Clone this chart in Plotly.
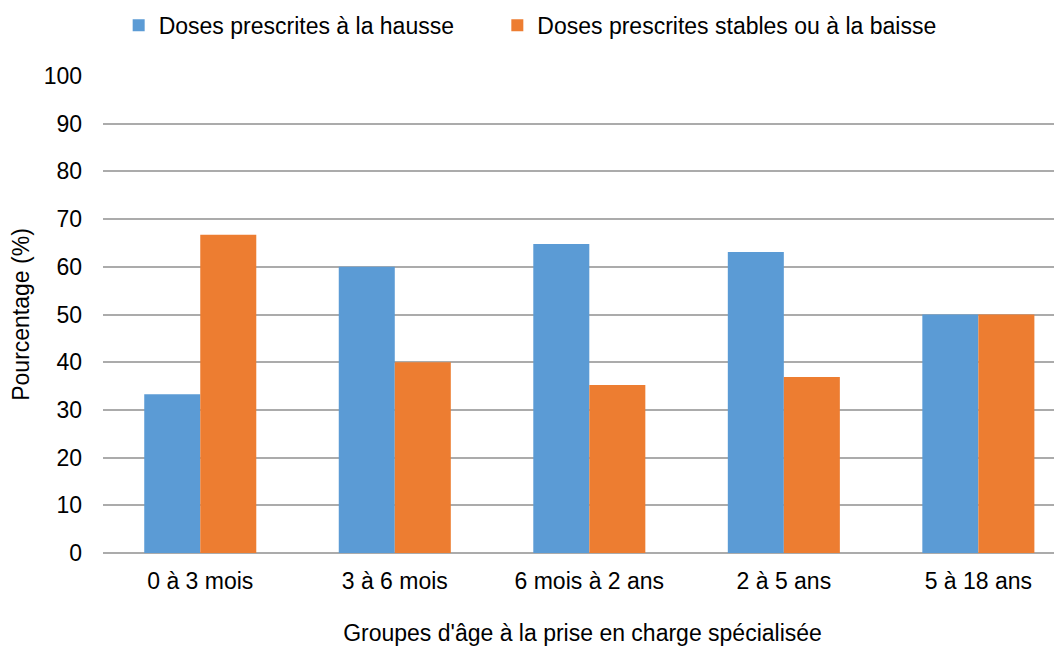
import plotly.graph_objects as go

categories = ["0 à 3 mois", "3 à 6 mois", "6 mois à 2 ans", "2 à 5 ans", "5 à 18 ans"]
hausse = [33.3, 60.0, 64.8, 63.1, 50.0]
stables = [66.7, 40.0, 35.2, 36.9, 50.0]
y_ticks = [0, 10, 20, 30, 40, 50, 60, 70, 80, 90, 100]
series_names = ["Doses prescrites à la hausse", "Doses prescrites stables ou à la baisse"]

FONT = "Liberation Sans, Arial, Helvetica, sans-serif"
FS = 23
PAD = "\u00a0" * 6  # spacing between legend entries

fig = go.Figure()
fig.add_trace(go.Bar(x=categories, y=hausse, name=series_names[0] + PAD,
                     marker=dict(color="#5B9BD5", line=dict(width=0))))
fig.add_trace(go.Bar(x=categories, y=stables, name=series_names[1],
                     marker=dict(color="#ED7D31", line=dict(width=0))))

fig.update_layout(
    width=1054, height=638,
    margin=dict(l=95, r=0, t=68, b=93),
    paper_bgcolor="white", plot_bgcolor="white",
    barmode="group", bargap=0.424, bargroupgap=0,
    font=dict(family=FONT, size=FS, color="#000000"),
    legend=dict(orientation="h", xref="container", yref="container",
                x=0.105, xanchor="left", y=0.973, yanchor="middle",
                font=dict(size=FS), itemwidth=30, tracegroupgap=0),
    showlegend=True,
)
fig.update_xaxes(
    type="category", range=[-0.5, 4.43], automargin=False,
    showgrid=False, showline=False, ticks="",
    ticklabelstandoff=12,
    tickfont=dict(size=FS),
    title=dict(text="Groupes d'âge à la prise en charge spécialisée", font=dict(size=FS), standoff=38),
)
fig.update_yaxes(
    range=[0, 100], tickvals=y_ticks, automargin=False,
    showgrid=True, gridcolor="#ABABAB", gridwidth=1.5,
    zeroline=True, zerolinecolor="#ABABAB", zerolinewidth=1.5,
    showline=False, ticks="", ticklabelstandoff=20,
    tickfont=dict(size=FS),
    title=dict(text="Pourcentage (%)", font=dict(size=FS), standoff=8),
)

fig.write_html("out.html")
